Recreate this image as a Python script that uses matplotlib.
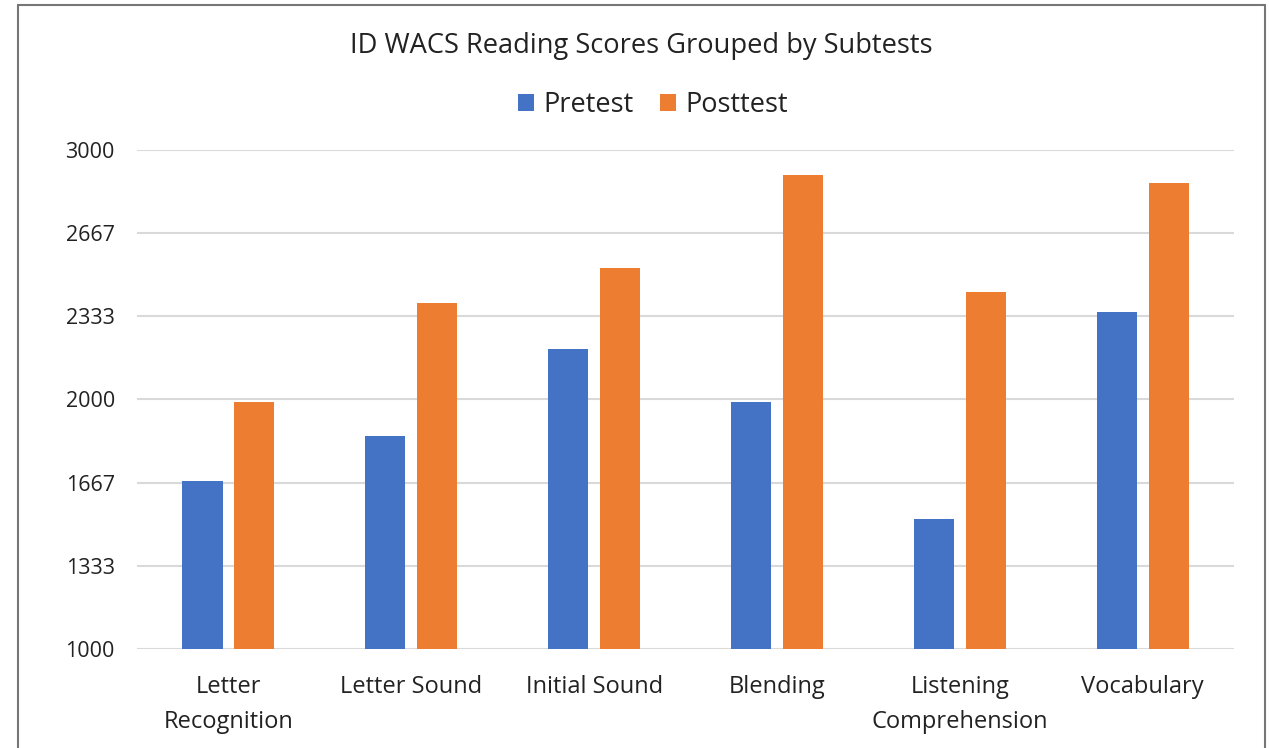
import matplotlib.pyplot as plt
import numpy as np
from matplotlib.patches import Rectangle

plt.rcParams['font.family'] = ['Open Sans', 'DejaVu Sans']

# data
subtests = ['Letter\nRecognition', 'Letter Sound', 'Initial Sound',
            'Blending', 'Listening\nComprehension', 'Vocabulary']
pretest = [1673, 1854, 2202, 1990, 1521, 2351]
posttest = [1990, 2387, 2527, 2900, 2431, 2868]
yticks = [1000, 1333, 1667, 2000, 2333, 2667, 3000]

blue = '#4472C4'
orange = '#ED7D31'

fig = plt.figure(figsize=(12.69, 7.48), dpi=100)
ax = fig.add_axes([0.108, 0.1324, 0.8644, 0.6671])

x = np.arange(len(subtests))
w = 0.219
ax.bar(x - 0.142, [v - 1000 for v in pretest], w, bottom=1000,
       color=blue, label='Pretest', zorder=3)
ax.bar(x + 0.142, [v - 1000 for v in posttest], w, bottom=1000,
       color=orange, label='Posttest', zorder=3)

ax.set_xlim(-0.5, len(subtests) - 0.5)
ax.set_ylim(1000, 3000)
ax.set_yticks(yticks)
ax.set_yticklabels([str(t) for t in yticks], fontsize=15.5, color='#222222')
ax.set_xticks(x)
ax.set_xticklabels(subtests, fontsize=17, color='#222222', linespacing=1.6)
ax.tick_params(axis='both', length=0)
ax.tick_params(axis='y', pad=16)
ax.tick_params(axis='x', pad=19)
ax.grid(axis='y', color='#d9d9d9', linewidth=1.5, zorder=0)
for s in ax.spines.values():
    s.set_visible(False)

fig.text(0.505, 0.938, 'ID WACS Reading Scores Grouped by Subtests',
         ha='center', va='center', fontsize=19.6, color='#222222')

fig.legend(loc='center', bbox_to_anchor=(0.5146, 0.86), ncol=2, frameon=False,
           fontsize=19.5, handlelength=0.6, handleheight=0.6,
           handletextpad=0.35, columnspacing=0.95, labelcolor='#222222')

# outer border
fig.patches.append(Rectangle((18 / 1269, -0.01), 1247 / 1269, 1 - 5 / 748 + 0.01,
                             transform=fig.transFigure, fill=False,
                             edgecolor='#767676', linewidth=1.5))

fig.savefig('out.png', dpi=100)
